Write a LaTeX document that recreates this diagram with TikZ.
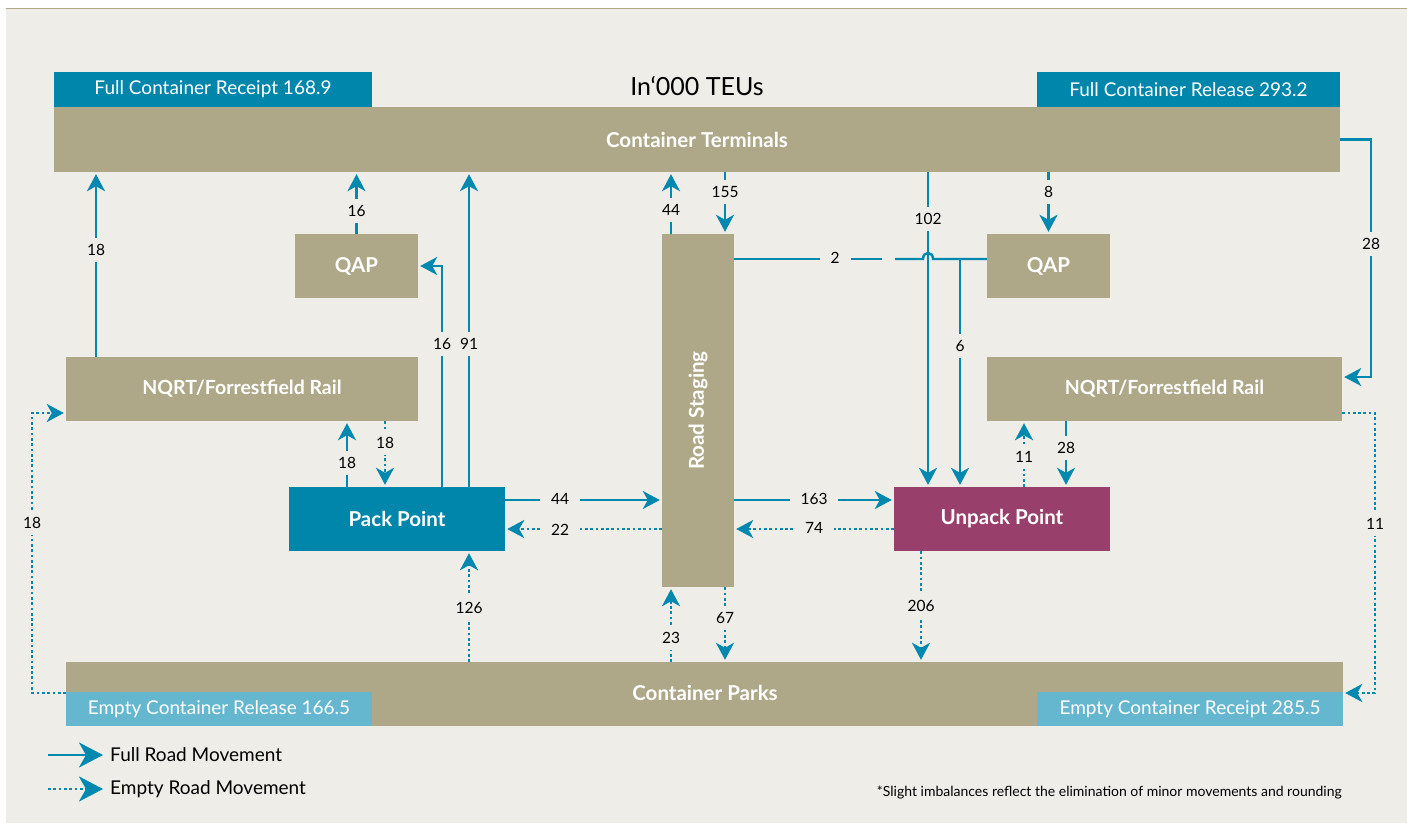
\documentclass[tikz,border=0pt]{standalone}
\usepackage{fontspec}
\setmainfont{Lato}
\usetikzlibrary{arrows.meta}
\definecolor{cbg}{HTML}{EEEDE8}
\definecolor{ctan}{HTML}{AFA888}
\definecolor{cteal}{HTML}{0085AB}
\definecolor{clight}{HTML}{65B6CF}
\definecolor{cmaroon}{HTML}{993F6B}
\definecolor{carrow}{HTML}{0088AE}
\begin{document}
\begin{tikzpicture}[x=1pt,y=-1pt,
  box/.style={rectangle, fill=ctan, text=white, inner sep=0pt, font=\bfseries\fontsize{20.5}{24}\selectfont},
  tag/.style={rectangle, text=white, inner sep=0pt, font=\fontsize{19}{22}\selectfont},
  full/.style={draw=carrow, line width=2.4pt, -{Stealth[length=17pt,width=18pt,inset=5pt]}, shorten >=2pt},
  empty/.style={full, line width=2.7pt, dash pattern=on 2.7pt off 2.6pt},
  plain/.style={draw=carrow, line width=2.4pt},
  vnum/.style={fill=cbg, text=black, inner xsep=3pt, inner ysep=6pt, font=\fontsize{15.5}{18}\selectfont},
  hnum/.style={vnum, inner xsep=11pt, inner ysep=2pt},
  legtxt/.style={anchor=west, text=black, inner sep=0pt, font=\fontsize{19}{22}\selectfont}
]
\useasboundingbox (0,0) rectangle (1407,825);
% background
\fill[white] (0,0) rectangle (1407,825);
\fill[cbg] (6,9) rectangle (1407,823);
\draw[ctan, line width=1.5pt] (6,8.5) -- (1407,8.5);

% boxes
\node[box, minimum width=1286pt, minimum height=65pt] (ct) at (697,139.5) {Container Terminals};
\node[tag, fill=cteal, minimum width=318pt, minimum height=35pt] (fcr) at (213,89.5) {Full Container Receipt 168.9};
\node[tag, fill=cteal, minimum width=303pt, minimum height=35pt] (fcl) at (1188.5,89.5) {Full Container Release 293.2};
\node[text=black, inner sep=0pt, font=\fontsize{25}{30}\selectfont] (title) at (697,86) {In‘000 TEUs};
\node[box, minimum width=123pt, minimum height=64pt] (qapL) at (356.5,266) {QAP};
\node[box, minimum width=123pt, minimum height=64pt] (qapR) at (1048.5,266) {QAP};
\node[box, minimum width=352pt, minimum height=64pt, font=\bfseries\fontsize{19.5}{23}\selectfont] (nqrtL) at (242,389) {NQRT/Forrestfield Rail};
\node[box, minimum width=355pt, minimum height=64pt, font=\bfseries\fontsize{19.5}{23}\selectfont] (nqrtR) at (1164.5,389) {NQRT/Forrestfield Rail};
\node[box, fill=cteal, minimum width=216pt, minimum height=64pt] (pack) at (397,519) {Pack Point};
\node[box, fill=cmaroon, minimum width=216pt, minimum height=64pt] (unpack) at (1002,519) {Unpack Point};
\node[box, minimum width=72pt, minimum height=353pt] (rs) at (698,410.5) {};
\node[text=white, inner sep=0pt, rotate=90, font=\bfseries\fontsize{20.5}{24}\selectfont] (rstxt) at (rs.center) {Road Staging};
\node[box, minimum width=1277pt, minimum height=64pt] (cp) at (704.5,694) {};
\node[text=white, inner sep=0pt, font=\bfseries\fontsize{20.5}{24}\selectfont] (cptxt) at (705,693) {Container Parks};
\node[tag, fill=clight, minimum width=306pt, minimum height=34pt] (ecl) at (219,709) {Empty Container Release 166.5};
\node[tag, fill=clight, minimum width=306pt, minimum height=34pt] (ecr) at (1190,709) {Empty Container Receipt 285.5};

% helper coordinates
\coordinate (x96) at (96,0);
\coordinate (x347) at (347,0);
\coordinate (x385) at (385,0);
\coordinate (x442) at (442,0);
\coordinate (x469) at (469,0);
\coordinate (x671) at (671,0);
\coordinate (x725) at (725,0);
\coordinate (x921) at (921,0);
\coordinate (x928) at (928,0);
\coordinate (x1024) at (1024,0);
\coordinate (x1066) at (1066,0);
\coordinate (y500) at (0,500);
\coordinate (y529) at (0,529);
\coordinate (j6) at (960,259);
\coordinate (g1) at (882,259);
\coordinate (g2) at (895,259);
\coordinate (b1) at (923,259);
\coordinate (b1c) at (923,251);
\coordinate (b2c) at (933,251);
\coordinate (b2) at (933,259);
\coordinate (r28) at (1371,377);
\coordinate (q1) at (1375,413);
\coordinate (q2) at (1375,693);
\coordinate (p1) at (32,413);
\coordinate (p2) at (32,693);

% connectors
\draw[full] (nqrtL.north -| x96) -- (ct.south -| x96);
\draw[full] (qapL.north) -- (ct.south -| qapL.north);
\draw[full] (pack.north -| x442) |- (qapL.east);
\draw[full] (pack.north -| x469) -- (ct.south -| x469);
\draw[full] (pack.north -| x347) -- (nqrtL.south -| x347);
\draw[empty] (nqrtL.south -| x385) -- (pack.north -| x385);
\draw[full] (pack.east |- y500) -- (rs.west |- y500);
\draw[empty] (rs.west |- y529) -- (pack.east |- y529);
\draw[empty] (cp.north -| x469) -- (pack.south -| x469);
\draw[empty] (cp.north -| x671) -- (rs.south -| x671);
\draw[empty] (rs.south -| x725) -- (cp.north -| x725);
\draw[full] (rs.north -| x671) -- (ct.south -| x671);
\draw[full] (ct.south -| x725) -- (rs.north -| x725);
\draw[full] (rs.east |- y500) -- (unpack.west |- y500);
\draw[empty] (unpack.west |- y529) -- (rs.east |- y529);
\draw[empty] (unpack.south -| x921) -- (cp.north -| x921);
\draw[full] (ct.south -| x928) -- (unpack.north -| x928);
\draw[full] (j6) -- (unpack.north -| j6);
\draw[plain] (rs.east |- j6) -- (g1);
\draw[plain] (g2) -- (b1) .. controls (b1c) and (b2c) .. (b2) -- (qapR.west |- j6);
\draw[full] (ct.south -| qapR.north) -- (qapR.north);
\draw[full] (ct.east) -| (r28) -- (nqrtR.east |- r28);
\draw[full] (nqrtR.south -| x1066) -- (unpack.north -| x1066);
\draw[empty] (unpack.north -| x1024) -- (nqrtR.south -| x1024);
\draw[empty] (nqrtR.east |- q1) -- (q1) -- (q2) -- (cp.east |- q2);
\draw[empty] (cp.west |- p2) -- (p2) -- (p1) -- (nqrtL.west |- p1);

% labels
\node[vnum] (l1) at (96,250) {18};
\node[vnum] (l2) at (356.5,211) {16};
\node[vnum] (l3) at (442,344) {16};
\node[vnum] (l4) at (469,344) {91};
\node[vnum] (l5) at (347,463) {18};
\node[vnum] (l6) at (385,443) {18};
\node[hnum] (l7) at (560,499) {44};
\node[hnum] (l8) at (560,530) {22};
\node[vnum] (l9) at (469,608) {126};
\node[vnum] (l10) at (671,638) {23};
\node[vnum] (l11) at (725,618) {67};
\node[vnum] (l12) at (671,210) {44};
\node[vnum] (l13) at (725,192) {155};
\node[hnum] (l14) at (814,499) {163};
\node[hnum] (l15) at (814,528) {74};
\node[vnum] (l16) at (921,606) {206};
\node[vnum] (l17) at (928,219) {102};
\node[vnum] (l18) at (960,346) {6};
\node[hnum] (l19) at (835,258) {2};
\node[vnum] (l20) at (1048.5,192) {8};
\node[vnum] (l21) at (1371,244) {28};
\node[vnum] (l22) at (1066,448) {28};
\node[vnum] (l23) at (1024,457) {11};
\node[vnum] (l24) at (1375,524) {11};
\node[vnum] (l25) at (32,523) {18};

% legend
\coordinate (lg1s) at (48,755);
\coordinate (lg1e) at (103,755);
\coordinate (lg2s) at (48,789);
\coordinate (lg2e) at (103,789);
\draw[full, shorten >=0pt, -{Stealth[length=24pt,width=25pt,inset=7pt]}] (lg1s) -- (lg1e);
\draw[empty, shorten >=0pt, -{Stealth[length=24pt,width=25pt,inset=7pt]}] (lg2s) -- (lg2e);
\node[legtxt] (lt1) at (110,755) {Full Road Movement};
\node[legtxt] (lt2) at (110,789) {Empty Road Movement};
\node[anchor=east, text=black, inner sep=0pt, font=\fontsize{14}{17}\selectfont] (foot) at (1342,792) {*Slight imbalances reflect the elimination of minor movements and rounding};
\end{tikzpicture}
\end{document}
